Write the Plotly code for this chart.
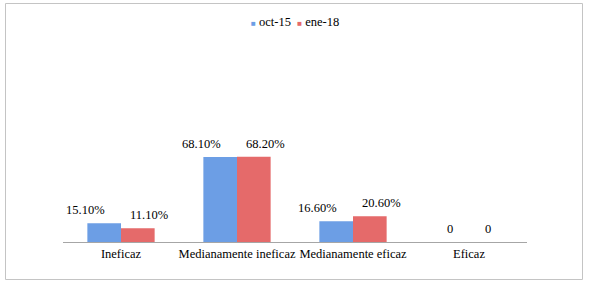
import plotly.graph_objects as go

categories = ["Ineficaz", "Medianamente ineficaz", "Medianamente eficaz", "Eficaz"]
oct15 = [15.1, 68.1, 16.6, 0]
ene18 = [11.1, 68.2, 20.6, 0]
series_names = ["oct-15", "ene-18"]
colors = ["#6c9ee5", "#e56a6a"]

W, H = 590, 285
FONT = "Liberation Serif"
FS = 12.5

def label(v):
    return "0" if v == 0 else f"{v:.2f}%"

fig = go.Figure()
fig.add_trace(go.Bar(x=categories, y=oct15, name=series_names[0], showlegend=False,
                     marker=dict(color=colors[0], line=dict(width=0))))
fig.add_trace(go.Bar(x=categories, y=ene18, name=series_names[1], showlegend=False,
                     marker=dict(color=colors[1], line=dict(width=0))))

annotations = []
for c, v in zip(categories, oct15):
    annotations.append(dict(x=c, y=v, xref="x", yref="y", text=label(v), showarrow=False,
                            xanchor="right", xshift=-14, yshift=13,
                            font=dict(family=FONT, size=FS, color="#000000")))
for c, v in zip(categories, ene18):
    annotations.append(dict(x=c, y=v, xref="x", yref="y", text=label(v), showarrow=False,
                            xanchor="left", xshift=7 if v else 14, yshift=13,
                            font=dict(family=FONT, size=FS, color="#000000")))

# compact legend (small square swatch right next to the text)
legend_text = "&nbsp;&nbsp;".join(
    f"<span style='color:{col};font-size:8px'>■</span>&nbsp;{name}"
    for name, col in zip(series_names, colors))
annotations.append(dict(x=0.5, y=(H - 22) / H, xref="paper", yref="paper", text=legend_text,
                        showarrow=False, xanchor="center", yanchor="middle",
                        font=dict(family=FONT, size=FS, color="#000000")))

fig.update_layout(
    width=W, height=H,
    margin=dict(l=0, r=0, t=0, b=0),
    paper_bgcolor="white", plot_bgcolor="white",
    barmode="group", bargap=0.42, bargroupgap=0,
    font=dict(family=FONT, size=FS, color="#000000"),
    showlegend=False,
    hovermode=False,
    xaxis=dict(domain=[63 / W, 527 / W], showline=True, linecolor="#a6a6a6", linewidth=1,
               ticks="", showgrid=False, automargin=False, tickfont=dict(family=FONT, size=FS)),
    yaxis=dict(domain=[43 / H, 143 / H], range=[0, 80], visible=False, showgrid=False,
               automargin=False),
    annotations=annotations,
    shapes=[dict(type="rect", xref="paper", yref="paper",
                 x0=5.5 / W, x1=582.5 / W, y0=(H - 279.5) / H, y1=(H - 3.5) / H,
                 line=dict(color="#c4c4c4", width=1), fillcolor="rgba(0,0,0,0)")],
)

fig.write_html("out.html", config={"displayModeBar": False},
               post_script="document.body.style.margin='0';")
